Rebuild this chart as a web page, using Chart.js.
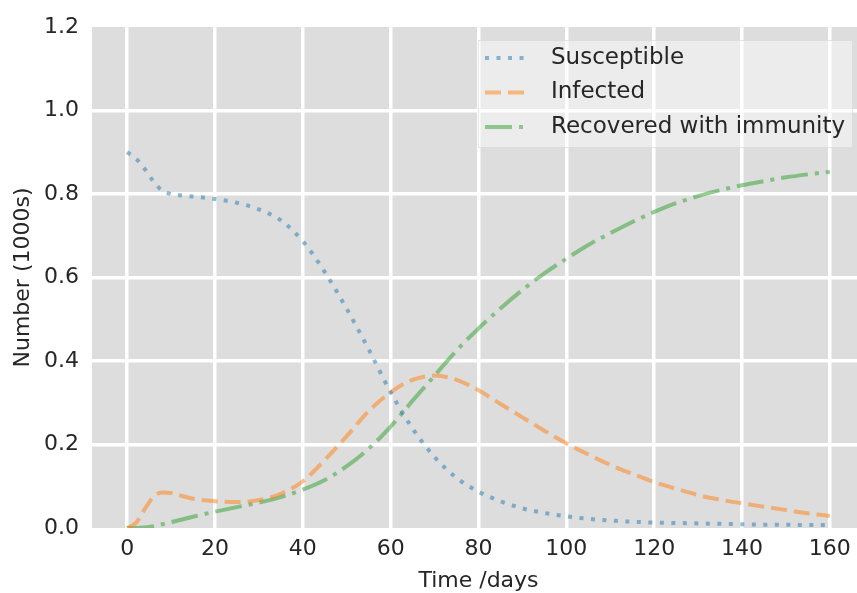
<!DOCTYPE html>
<html>
<head>
<meta charset="utf-8">
<script src="https://cdn.jsdelivr.net/npm/chart.js@4/dist/chart.umd.min.js"></script>
<style>
  html, body { margin: 0; padding: 0; background: #ffffff; overflow: hidden; width: 857px; height: 593px; }
  #wrap { width: 865px; height: 593px; }
</style>
</head>
<body>
<div id="wrap"><canvas id="c" width="865" height="593"></canvas></div>
<script>
const days = [0, 2, 4, 6, 8, 10, 12, 15, 20, 25, 30, 35, 40, 45, 50, 55, 60, 65, 70, 75, 80, 85, 90, 95, 100, 105, 110, 115, 120, 125, 130, 135, 140, 145, 150, 155, 160];
const susceptible = [0.900, 0.885, 0.860, 0.830, 0.808, 0.800, 0.797, 0.794, 0.788, 0.779, 0.763, 0.737, 0.687, 0.613, 0.525, 0.428, 0.325, 0.238, 0.170, 0.120, 0.087, 0.064, 0.047, 0.036, 0.028, 0.022, 0.018, 0.015, 0.013, 0.012, 0.011, 0.010, 0.009, 0.008, 0.008, 0.007, 0.007];
const infected = [0.000, 0.012, 0.045, 0.075, 0.085, 0.084, 0.078, 0.070, 0.064, 0.062, 0.067, 0.082, 0.112, 0.163, 0.220, 0.280, 0.325, 0.355, 0.365, 0.355, 0.330, 0.297, 0.265, 0.233, 0.203, 0.176, 0.151, 0.130, 0.110, 0.094, 0.079, 0.068, 0.059, 0.051, 0.043, 0.035, 0.029];
const recovered = [0.000, 0.000, 0.001, 0.004, 0.009, 0.014, 0.019, 0.027, 0.039, 0.050, 0.061, 0.074, 0.092, 0.115, 0.148, 0.190, 0.243, 0.305, 0.365, 0.425, 0.478, 0.526, 0.570, 0.610, 0.645, 0.678, 0.706, 0.733, 0.757, 0.778, 0.795, 0.809, 0.821, 0.831, 0.840, 0.847, 0.853];
const seriesLabels = ['Susceptible', 'Infected', 'Recovered with immunity'];
const xTitle = 'Time /days';
const yTitle = 'Number (1000s)';

const FONT = 'DejaVu Sans';
const TEXT = '#262626';

function pts(vals) { return days.map((d, i) => ({ x: d, y: vals[i] })); }

const bgPlugin = {
  id: 'bg',
  beforeDraw(chart) {
    const { ctx, chartArea: a } = chart;
    ctx.save();
    ctx.fillStyle = '#dddddd';
    ctx.fillRect(a.left, a.top, a.right - a.left, a.bottom - a.top);
    ctx.restore();
  }
};

const legendPlugin = {
  id: 'boxLegend',
  afterDatasetsDraw(chart) {
    const { ctx } = chart;
    const x0 = 478, y0 = 40, w = 375, h = 108;
    ctx.save();
    ctx.fillStyle = 'rgba(255,255,255,0.45)';
    ctx.fillRect(x0, y0, w, h);
    ctx.strokeStyle = 'rgba(210,210,210,0.6)';
    ctx.lineWidth = 1;
    ctx.strokeRect(x0 + 0.5, y0 + 0.5, w - 1, h - 1);
    chart.data.datasets.forEach((ds, i) => {
      const cy = 58 + i * 34.5;
      ctx.beginPath();
      ctx.strokeStyle = ds.borderColor;
      ctx.lineWidth = ds.borderWidth;
      ctx.setLineDash(ds.borderDash || []);
      ctx.lineCap = 'butt';
      ctx.moveTo(485, cy);
      ctx.lineTo(528, cy);
      ctx.stroke();
      ctx.setLineDash([]);
      ctx.fillStyle = TEXT;
      ctx.font = '23px "' + FONT + '"';
      ctx.textBaseline = 'middle';
      ctx.textAlign = 'left';
      ctx.fillText(ds.label, 551, cy);
    });
    ctx.restore();
  }
};

new Chart(document.getElementById('c'), {
  type: 'line',
  data: {
    datasets: [
      { label: seriesLabels[0], data: pts(susceptible), borderColor: 'rgba(31,119,180,0.5)', borderWidth: 4, borderDash: [4, 7.5], pointRadius: 0, fill: false, cubicInterpolationMode: 'monotone' },
      { label: seriesLabels[1], data: pts(infected), borderColor: 'rgba(255,127,14,0.5)', borderWidth: 4, borderDash: [16, 7], pointRadius: 0, fill: false, cubicInterpolationMode: 'monotone' },
      { label: seriesLabels[2], data: pts(recovered), borderColor: 'rgba(44,160,44,0.5)', borderWidth: 4, borderDash: [27, 7, 4, 7], pointRadius: 0, fill: false, cubicInterpolationMode: 'monotone' }
    ]
  },
  options: {
    responsive: false,
    animation: false,
    devicePixelRatio: 1,
    layout: { padding: { top: 27, left: 0, right: 0, bottom: 0 } },
    plugins: { legend: { display: false }, tooltip: { enabled: false } },
    scales: {
      x: {
        type: 'linear',
        min: -8, max: 168,
        afterFit(scale) { scale.height = 65; },
        border: { display: false },
        grid: { color: '#ffffff', lineWidth: 3.5, drawTicks: false },
        ticks: { stepSize: 20, includeBounds: false, padding: 8, color: TEXT, font: { family: FONT, size: 22 }, maxRotation: 0 },
        title: { display: true, text: xTitle, color: TEXT, font: { family: FONT, size: 22, lineHeight: 1 }, padding: { top: 0, bottom: 0.5 } }
      },
      y: {
        type: 'linear',
        min: 0, max: 1.2,
        afterFit(scale) { scale.width = 92; },
        border: { display: false },
        grid: {
          color: (c) => (c.tick && (c.tick.value >= 1.19 || c.tick.value <= 0.001)) ? 'rgba(255,255,255,0)' : '#ffffff',
          lineWidth: 3.5, drawTicks: false
        },
        ticks: { stepSize: 0.2, padding: 13, color: TEXT, font: { family: FONT, size: 22 }, callback: (v) => Number(v).toFixed(1) },
        title: { display: true, text: yTitle, color: TEXT, font: { family: FONT, size: 22, lineHeight: 1 }, padding: { top: 12, bottom: 0 } }
      }
    }
  },
  plugins: [bgPlugin, legendPlugin]
});
</script>
</body>
</html>
